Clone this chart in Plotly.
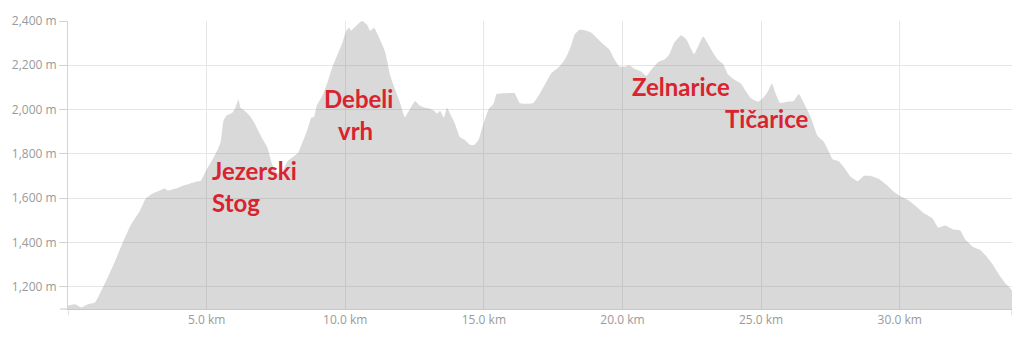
import plotly.graph_objects as go

# Distance along the route (km) and elevation (m)
distance_km = [
    0.00, 0.26, 0.47, 0.72, 0.97, 1.15, 1.37, 1.69, 1.98, 2.27, 2.59, 2.81, 3.06, 3.31,
    3.49, 3.60, 3.89, 4.14, 4.39, 4.61, 4.79, 4.97, 5.22, 5.40, 5.51, 5.61, 5.72, 5.93,
    6.04, 6.15, 6.22, 6.37, 6.55, 6.73, 6.94, 7.19, 7.37, 7.55, 7.73, 7.91, 8.16, 8.31,
    8.45, 8.63, 8.78, 8.88, 8.97, 9.17, 9.35, 9.53, 9.71, 9.89, 10.04, 10.14, 10.21,
    10.32, 10.50, 10.61, 10.79, 10.90, 11.04, 11.22, 11.44, 11.62, 11.80, 11.98, 12.15,
    12.34, 12.52, 12.70, 12.88, 13.06, 13.20, 13.31, 13.42, 13.56, 13.67, 13.78, 13.95,
    14.13, 14.31, 14.49, 14.67, 14.81, 14.99, 15.18, 15.35, 15.46, 15.82, 16.11, 16.29,
    16.61, 16.79, 17.01, 17.26, 17.44, 17.69, 17.91, 18.05, 18.16, 18.27, 18.45, 18.70,
    18.88, 19.13, 19.35, 19.53, 19.71, 19.89, 20.07, 20.25, 20.43, 20.68, 20.86, 21.04,
    21.29, 21.51, 21.69, 21.87, 22.12, 22.30, 22.48, 22.58, 22.76, 22.91, 23.09, 23.30,
    23.45, 23.63, 23.81, 24.02, 24.27, 24.45, 24.63, 24.89, 25.07, 25.25, 25.39, 25.53,
    25.68, 26.00, 26.18, 26.36, 26.54, 26.79, 27.04, 27.26, 27.44, 27.58, 27.80, 27.98,
    28.23, 28.48, 28.70, 28.95, 29.24, 29.56, 29.78, 30.03, 30.32, 30.57, 30.86, 31.18,
    31.39, 31.64, 31.93, 32.18, 32.36, 32.65, 32.90, 33.08, 33.33, 33.55, 33.80, 33.98,
    34.05,
]
elevation_m = [
    1115, 1120, 1106, 1120, 1128, 1168, 1225, 1313, 1401, 1480, 1542, 1599, 1621, 1634,
    1643, 1634, 1643, 1656, 1665, 1674, 1678, 1722, 1775, 1819, 1854, 1950, 1973, 1986,
    2008, 2046, 2008, 1995, 1973, 1938, 1885, 1828, 1750, 1712, 1718, 1765, 1790, 1806,
    1850, 1907, 1964, 1968, 2017, 2061, 2120, 2190, 2245, 2300, 2356, 2369, 2356,
    2369, 2391, 2400, 2382, 2356, 2369, 2325, 2260, 2155, 2090, 2030, 1966,
    2004, 2039, 2017, 2008, 2004, 1995, 1982, 1995, 1964, 2008, 1982, 1938,
    1876, 1863, 1841, 1841, 1863, 1938, 2004, 2026, 2070, 2074, 2074, 2030,
    2026, 2030, 2070, 2127, 2165, 2190, 2224, 2259, 2294, 2338, 2360, 2356,
    2347, 2316, 2290, 2270, 2226, 2195, 2193, 2200, 2184, 2171, 2152, 2180,
    2215, 2226, 2250, 2303, 2336, 2318, 2272, 2250, 2294, 2330, 2296, 2250,
    2224, 2206, 2158, 2136, 2118, 2083, 2052, 2035, 2052, 2083, 2118, 2070,
    2030, 2036, 2039, 2070, 2030, 1966, 1880, 1854, 1810, 1775, 1766, 1740,
    1696, 1676, 1700, 1700, 1687, 1656, 1630, 1608, 1590, 1564, 1533, 1509,
    1467, 1476, 1458, 1454, 1414, 1379, 1366, 1344, 1304, 1260, 1216, 1194,
    1181,
]

x_ticks = [5, 10, 15, 20, 25, 30]
y_ticks = [1200, 1400, 1600, 1800, 2000, 2200, 2400]

# Place labels (text, x km, y m, anchor)
labels = [
    ("Jezerski", 5.11, 1725, "left"),
    ("Stog", 5.11, 1578, "left"),
    ("Debeli", 10.47, 2050, "center"),
    ("vrh", 10.36, 1905, "center"),
    ("Zelnarice", 20.27, 2105, "left"),
    ("Tičarice", 23.62, 1960, "left"),
]

x_max = distance_km[-1]
y_min = 1099

fig = go.Figure()
fig.add_trace(go.Scatter(
    x=distance_km, y=elevation_m,
    mode="lines",
    line=dict(width=0, color="rgba(128,128,128,0.3)", shape="spline", smoothing=0.4),
    fill="tozeroy",
    fillcolor="rgba(128,128,128,0.3)",
    hoverinfo="skip",
    showlegend=False,
))

for text, lx, ly, anchor in labels:
    fig.add_annotation(
        x=lx, y=ly, xref="x", yref="y", text=text, showarrow=False,
        xanchor=anchor, yanchor="middle",
        font=dict(family="Lato", size=24, color="#d9232e", weight="bold"),
    )

tick_font = dict(family="Open Sans", size=12, color="#9a9a9a")

# end ticks on the x axis (at route start and end)
for xv in (0, x_max):
    fig.add_shape(type="line", xref="x", yref="paper", x0=xv, x1=xv, y0=0, y1=-0.022,
                  line=dict(color="#c8c8c8", width=1))
# short extension of the bottom axis line to the left
fig.add_shape(type="line", xref="paper", yref="paper", x0=-0.0085, x1=0, y0=0, y1=0,
              line=dict(color="#c8c8c8", width=1))

fig.update_layout(
    width=1024, height=352,
    margin=dict(l=65, r=12, t=13, b=43),
    paper_bgcolor="white", plot_bgcolor="white",
    xaxis=dict(
        range=[0, x_max], tickvals=x_ticks, ticktext=[f"{v:.1f} km" for v in x_ticks],
        showgrid=True, gridcolor="#e6e6e6", gridwidth=1,
        showline=True, linecolor="#c8c8c8", linewidth=1,
        ticks="", tickfont=tick_font, zeroline=False,
    ),
    yaxis=dict(
        range=[y_min, 2400], tickvals=y_ticks, ticktext=[f"{v:,} m" for v in y_ticks],
        showgrid=True, gridcolor="#e6e6e6", gridwidth=1,
        showline=True, linecolor="#d4d4d4", linewidth=1,
        ticks="outside", ticklen=8, tickcolor="#d4d4d4", tickfont=tick_font,
        zeroline=False,
    ),
)

fig.write_html("out.html")
